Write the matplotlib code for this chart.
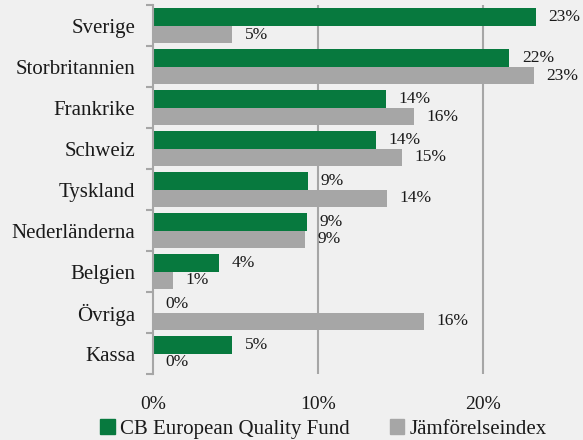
import matplotlib
matplotlib.use("agg")
import matplotlib.pyplot as plt
from matplotlib.patches import Patch
import numpy as np

categories = ["Sverige", "Storbritannien", "Frankrike", "Schweiz", "Tyskland",
              "Nederländerna", "Belgien", "Övriga", "Kassa"]
fund = [23.2, 21.6, 14.1, 13.5, 9.4, 9.3, 4.0, 0.0, 4.8]
index = [4.8, 23.1, 15.8, 15.1, 14.2, 9.2, 1.2, 16.4, 0.0]
fund_name = "CB European Quality Fund"
index_name = "Jämförelseindex"
xticks = [0, 10, 20]

GREEN = "#07793e"
GREY = "#a6a6a6"
BG = "#f0f0f0"

plt.rcParams["font.family"] = ["Liberation Serif", "DejaVu Serif"]

fig = plt.figure(figsize=(5.83, 4.40), dpi=100, facecolor=BG)
ax = fig.add_axes([0.263, 0.15, 0.707, 0.838], facecolor=BG)

y = np.arange(len(categories))
h = 0.43
ax.barh(y - h / 2, fund, height=h, color=GREEN, zorder=3)
ax.barh(y + h / 2, index, height=h, color=GREY, zorder=3)

for yi, v in zip(y, fund):
    ax.annotate(f"{v:.0f}%", (v, yi - h / 2), xytext=(9, 0), textcoords="offset points",
                va="center", ha="left", fontsize=12.5, color="#1a1a1a")
for yi, v in zip(y, index):
    ax.annotate(f"{v:.0f}%", (v, yi + h / 2), xytext=(9, 0), textcoords="offset points",
                va="center", ha="left", fontsize=12.5, color="#1a1a1a")

ax.set_xlim(0, 25)
ax.set_ylim(len(categories) - 0.5, -0.5)
ax.set_xticks(xticks)
ax.set_xticklabels([f"{t}%" for t in xticks], fontsize=14, color="#1a1a1a")
ax.tick_params(axis="x", length=0, pad=16)
ax.set_yticks(y)
ax.set_yticklabels(categories, fontsize=15, color="#1a1a1a")
ax.tick_params(axis="y", which="major", length=0, pad=13)
ax.set_yticks(np.arange(len(categories) + 1) - 0.5, minor=True)
ax.tick_params(axis="y", which="minor", length=5, width=1.5, color=GREY)

for t in xticks[1:]:
    ax.axvline(t, color=GREY, lw=1.5, zorder=1)

for s in ["top", "right", "bottom"]:
    ax.spines[s].set_visible(False)
ax.spines["left"].set_color(GREY)
ax.spines["left"].set_linewidth(1.5)
ax.spines["left"].set_zorder(4)

handles = [Patch(color=GREEN, label=fund_name), Patch(color=GREY, label=index_name)]
fig.legend(handles=handles, loc="lower center", bbox_to_anchor=(0.555, -0.04), ncol=2,
           frameon=False, fontsize=15, handlelength=0.7, handleheight=0.7,
           handletextpad=0.25, columnspacing=1.9, labelcolor="#1a1a1a")

fig.savefig("out.png", dpi=100, facecolor=BG)
